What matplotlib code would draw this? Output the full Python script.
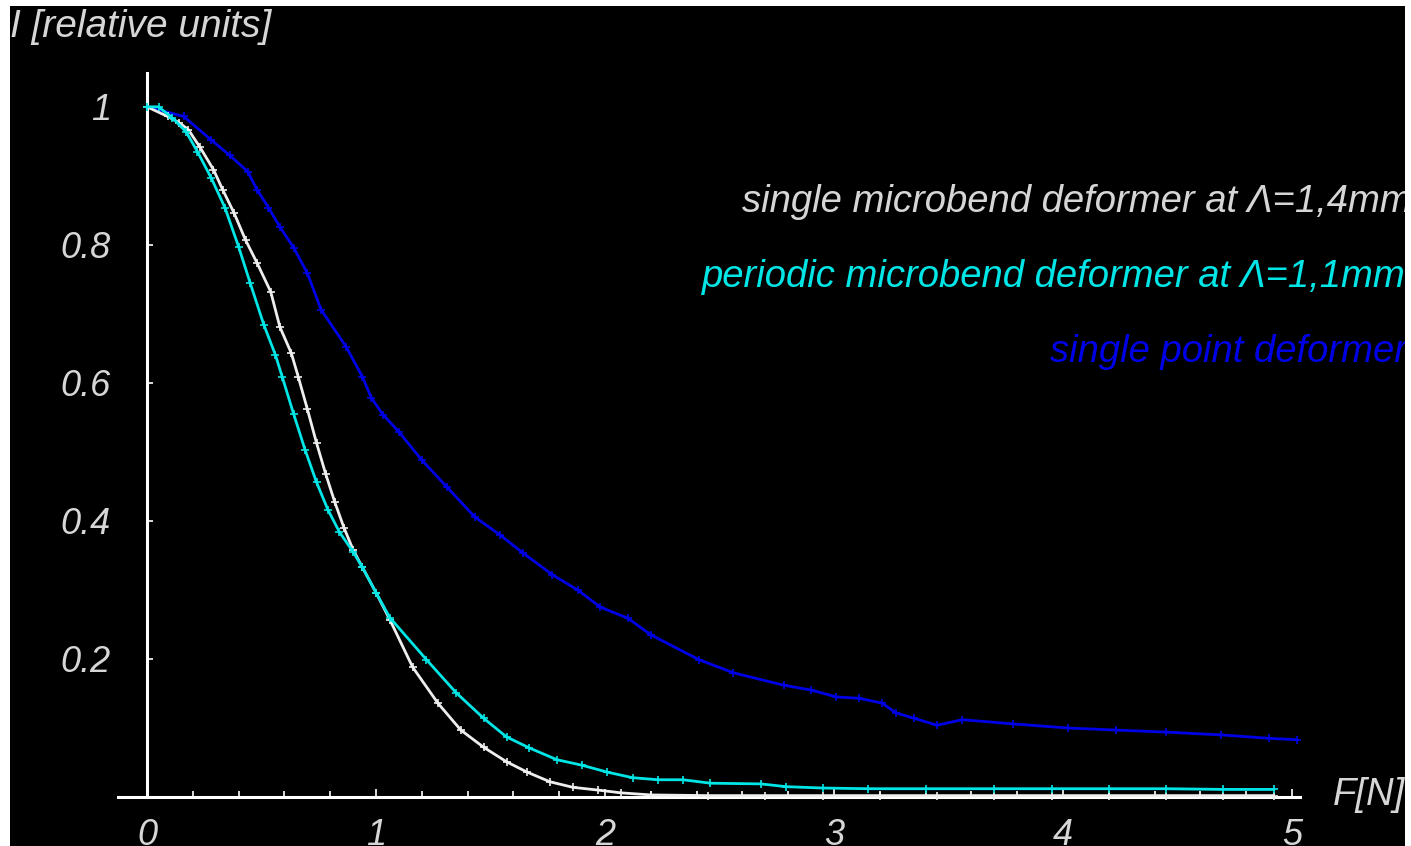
import matplotlib
matplotlib.use("Agg")
import matplotlib.pyplot as plt
from matplotlib.patches import Rectangle

# single point deformer (blue)
point_x = [0, 0.16, 0.28, 0.36, 0.44, 0.48, 0.53, 0.58, 0.64, 0.70, 0.76, 0.87, 0.94, 0.98,
           1.03, 1.10, 1.20, 1.31, 1.43, 1.54, 1.64, 1.77, 1.88, 1.98, 2.10, 2.20, 2.41, 2.56,
           2.78, 2.90, 3.01, 3.11, 3.21, 3.27, 3.35, 3.45, 3.56, 3.78, 4.02, 4.23, 4.45, 4.69,
           4.90, 5.02]
point_y = [1.0, 0.986, 0.952, 0.930, 0.906, 0.880, 0.854, 0.826, 0.796, 0.759, 0.706, 0.652,
           0.609, 0.578, 0.554, 0.529, 0.488, 0.449, 0.406, 0.380, 0.354, 0.322, 0.300, 0.275,
           0.259, 0.235, 0.199, 0.180, 0.162, 0.155, 0.145, 0.143, 0.136, 0.122, 0.114, 0.104,
           0.112, 0.106, 0.100, 0.097, 0.094, 0.090, 0.085, 0.083]

# single microbend deformer at 1,4mm (white)
single_x = [0, 0.09, 0.14, 0.18, 0.23, 0.29, 0.33, 0.38, 0.43, 0.48, 0.54, 0.58, 0.63, 0.66,
            0.70, 0.74, 0.78, 0.82, 0.86, 0.90, 0.94, 1.00, 1.06, 1.16, 1.27, 1.37, 1.47, 1.57,
            1.66, 1.76, 1.86, 1.97, 2.07, 2.20, 2.45, 2.70, 2.95, 3.20, 3.45, 3.70, 3.95, 4.20,
            4.45, 4.70, 4.92]
single_y = [1.0, 0.986, 0.977, 0.967, 0.942, 0.909, 0.880, 0.846, 0.807, 0.774, 0.732, 0.681,
            0.643, 0.609, 0.562, 0.513, 0.468, 0.427, 0.390, 0.358, 0.333, 0.296, 0.257, 0.188,
            0.136, 0.097, 0.072, 0.051, 0.036, 0.022, 0.014, 0.010, 0.006, 0.003, 0.002, 0.002,
            0.002, 0.002, 0.002, 0.002, 0.002, 0.002, 0.002, 0.002, 0.002]

# periodic microbend deformer at 1,1mm (cyan)
periodic_x = [0, 0.05, 0.11, 0.17, 0.22, 0.28, 0.34, 0.40, 0.45, 0.51, 0.56, 0.59, 0.64, 0.69,
              0.74, 0.79, 0.84, 0.90, 0.94, 1.00, 1.06, 1.22, 1.35, 1.47, 1.57, 1.67, 1.79,
              1.90, 2.01, 2.12, 2.23, 2.34, 2.46, 2.68, 2.79, 2.95, 3.15, 3.40, 3.70, 3.95,
              4.20, 4.45, 4.70, 4.92]
periodic_y = [1.0, 1.0, 0.984, 0.964, 0.935, 0.897, 0.854, 0.797, 0.745, 0.684, 0.641, 0.609,
              0.555, 0.503, 0.456, 0.416, 0.384, 0.355, 0.333, 0.296, 0.260, 0.199, 0.151,
              0.114, 0.087, 0.071, 0.054, 0.046, 0.036, 0.028, 0.025, 0.025, 0.020, 0.019,
              0.015, 0.013, 0.012, 0.012, 0.012, 0.012, 0.012, 0.012, 0.011, 0.011]

x_ticks = [0, 1, 2, 3, 4, 5]
y_ticks = [0.2, 0.4, 0.6, 0.8, 1.0]
y_tick_labels = ["0.2", "0.4", "0.6", "0.8", "1"]

labels = ["single microbend deformer at \u039b=1,4mm",
          "periodic microbend deformer at \u039b=1,1mm",
          "single point deformer"]
colors = ["#eeeeee", "#00e6e6", "#0000e6"]

W, H = 1411, 846
plt.rcParams["font.family"] = ["Liberation Sans", "DejaVu Sans"]
plt.rcParams["font.style"] = "italic"
text_color = "#d6d6d6"
fs = 26

fig = plt.figure(figsize=(W / 100, H / 100), dpi=100)
fig.patch.set_facecolor("white")
# black picture area inside a thin white frame
fig.add_artist(Rectangle((10 / W, 0), 1395 / W, 840 / H, transform=fig.transFigure,
                         facecolor="black", edgecolor="none", zorder=0))

ax = fig.add_axes([118 / W, (H - 797) / H, 1182 / W, 724 / H])
ax.set_facecolor("none")
ax.set_xlim(-0.127, 5.035)
ax.set_ylim(0, 1.049)

for xs, ys, c in [(point_x, point_y, colors[2]), (single_x, single_y, colors[0]),
                  (periodic_x, periodic_y, colors[1])]:
    ax.plot(xs, ys, color=c, lw=2.0, marker="+", ms=6, mew=1.2, clip_on=False, zorder=3)

ax.spines["top"].set_visible(False)
ax.spines["right"].set_visible(False)
ax.spines["left"].set_position(("data", 0))
for s in ["left", "bottom"]:
    ax.spines[s].set_color("white")
    ax.spines[s].set_linewidth(2.2)
    ax.spines[s].set_zorder(2)

ax.set_xticks(x_ticks)
ax.set_xticks([i * 0.2 for i in range(26) if i % 5], minor=True)
ax.set_yticks(y_ticks)
ax.set_yticklabels(y_tick_labels)
ax.tick_params(axis="both", which="both", direction="in", color="white", width=1.2,
               labelcolor=text_color, labelsize=fs)
ax.tick_params(axis="x", which="major", length=6, pad=15)
ax.tick_params(axis="x", which="minor", length=4)
ax.tick_params(axis="y", which="major", length=4, pad=26)

# curve labels
lab_fs = 27.5
ax_text = [(742, 212), (702, 287), (1050, 362)]
for (px, py), lab, c in zip(ax_text, labels, colors):
    fig.text(px / W, (H - py) / H, lab, color=c if c != "#eeeeee" else text_color,
             fontsize=lab_fs, ha="left", va="baseline")

fig.text(10 / W, (H - 37) / H, "I [relative units]", color=text_color, fontsize=28,
         ha="left", va="baseline")
fig.text(1333 / W, (H - 805) / H, "F[N]", color=text_color, fontsize=lab_fs,
         ha="left", va="baseline")

# white frame on top and right edge
fig.add_artist(Rectangle((0, (H - 6) / H), 1, 6 / H, transform=fig.transFigure,
                         facecolor="white", edgecolor="none", zorder=10))
fig.add_artist(Rectangle((1405 / W, 0), 6 / W, 1, transform=fig.transFigure,
                         facecolor="white", edgecolor="none", zorder=10))

fig.savefig("out.png", dpi=100, facecolor=fig.get_facecolor())
